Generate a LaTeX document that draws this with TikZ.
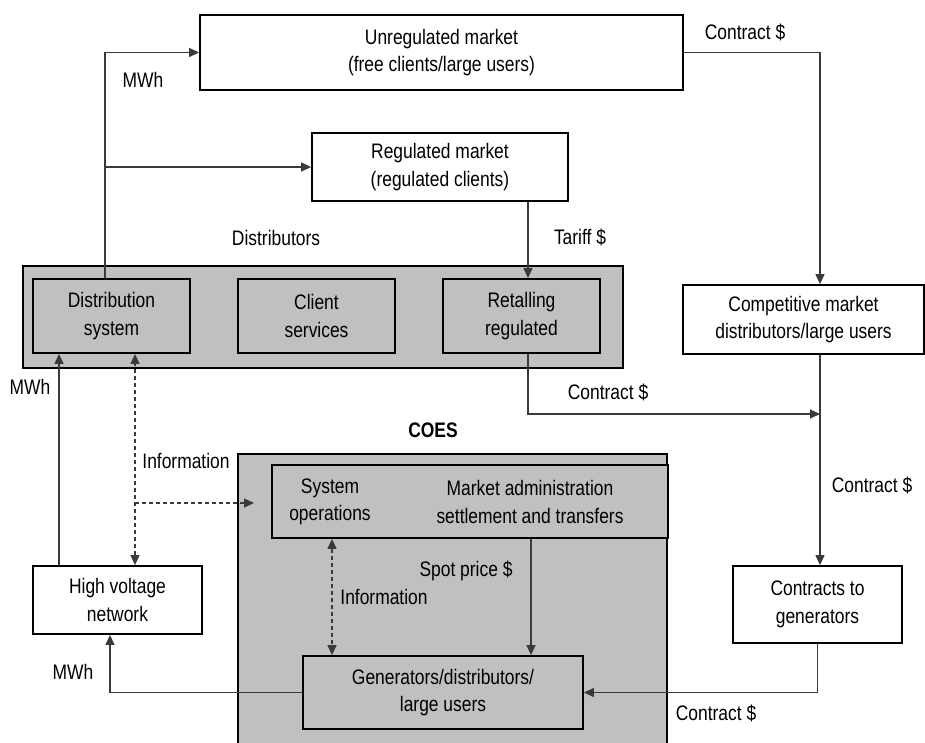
\documentclass[tikz,border=0pt]{standalone}
\usepackage{fontspec}
\setmainfont{Liberation Sans}[FakeStretch=0.83]
\usetikzlibrary{arrows.meta}
\definecolor{boxgray}{HTML}{C0C0C0}
\definecolor{linegray}{HTML}{3A3A3A}
\tikzset{
  box/.style={draw=black, line width=1.8pt, fill=white, inner sep=0pt, align=center},
  gbox/.style={box, fill=boxgray},
  conn/.style={draw=linegray, line width=1.2pt},
  arr/.style={conn, -{Triangle[length=10pt,width=9pt]}},
  darr/.style={conn, dashed, dash pattern=on 4pt off 3pt, -{Triangle[length=10pt,width=9pt]}},
  ddarr/.style={darr, {Triangle[length=10pt,width=9pt]}-{Triangle[length=10pt,width=9pt]}},
  lbl/.style={inner sep=0pt, align=center},
}
\begin{document}
\begin{tikzpicture}[x=1pt, y=-1pt, font=\fontsize{21}{27.5}\selectfont]
\useasboundingbox (0,0) rectangle (925,742);
% boxes
\node[box, minimum width=483pt, minimum height=75pt] (unreg) at (441.5,52.5) {Unregulated market\\(free clients/large users)};
\node[box, minimum width=256pt, minimum height=68pt] (reg) at (440,167) {Regulated market\\(regulated clients)};
\node[gbox, minimum width=600pt, minimum height=102pt] (dist) at (323,317) {};
\node[gbox, minimum width=157pt, minimum height=74pt] (distsys) at (111.5,316) {Distribution\\system};
\node[gbox, minimum width=157pt, minimum height=74pt] (client) at (316.5,316) {Client\\services};
\node[gbox, minimum width=157pt, minimum height=74pt] (retail) at (521.5,316) {Retalling\\regulated};
\node[box, minimum width=241pt, minimum height=69pt] (comp) at (803.5,319.5) {Competitive market\\distributors/large users};
\node[gbox, minimum width=429pt, minimum height=300pt] (coes) at (452.5,604) {};
\node[gbox, minimum width=396pt, minimum height=73pt] (sysops) at (470,501.5) {};
\node[lbl] (sysopstxt) at (330,502) {System\\operations};
\node[lbl] (markettxt) at (530,502) {Market administration\\settlement and transfers};
\node[gbox, minimum width=280pt, minimum height=73pt] (gen) at (443,692.5) {Generators/distributors/\\large users};
\node[box, minimum width=169pt, minimum height=68pt] (hv) at (117.5,600) {High voltage\\network};
\node[box, minimum width=169pt, minimum height=77pt] (ctg) at (817.5,604.5) {Contracts to\\generators};
% helper coordinates
\coordinate (j1) at (105,53);
\coordinate (j2) at (105,167);
\coordinate (t1) at (528,0);
\coordinate (cx) at (820,0);
\coordinate (j3) at (820,414);
\coordinate (m1) at (110,0);
\coordinate (m2) at (59,0);
\coordinate (m3) at (135,0);
\coordinate (i1) at (135,503);
\coordinate (i2) at (254,503);
\coordinate (s1) at (332,0);
\coordinate (s2) at (531,0);
% connectors
\draw[arr] (distsys.north -| j1) |- (unreg.west);
\draw[arr] (j2) -- (reg.west);
\draw[arr] (reg.south -| t1) -- (retail.north -| t1);
\draw[arr] (unreg.east) -| (comp.north -| cx);
\draw[arr] (comp.south -| cx) -- (ctg.north -| cx);
\draw[arr] (retail.south -| t1) |- (j3);
\draw[arr] (ctg.south) |- (gen.east);
\draw[arr] (gen.west) -| (hv.south -| m1);
\draw[arr] (hv.north -| m2) -- (distsys.south -| m2);
\draw[ddarr] (hv.north -| m3) -- (distsys.south -| m3);
\draw[darr] (i1) -- (i2);
\draw[ddarr] (sysops.south -| s1) -- (gen.north -| s1);
\draw[arr] (sysops.south -| s2) -- (gen.north -| s2);
% labels
\node[lbl] (l1) at (143,80) {MWh};
\node[lbl] (l2) at (276,238) {Distributors};
\node[lbl] (l3) at (580,237) {Tariff \$};
\node[lbl] (l4) at (745,32) {Contract \$};
\node[lbl] (l5) at (608,392) {Contract \$};
\node[lbl] (l6) at (872,485) {Contract \$};
\node[lbl] (l7) at (716,713) {Contract \$};
\node[lbl] (l8) at (30,387) {MWh};
\node[lbl, font=\fontsize{21}{27.5}\selectfont\bfseries] (l9) at (433,430) {COES};
\node[lbl] (l10) at (186,461) {Information};
\node[lbl] (l11) at (466,571) {Spot price \$};
\node[lbl] (l12) at (384,597) {Information};
\node[lbl] (l13) at (73,672) {MWh};
\end{tikzpicture}
\end{document}
